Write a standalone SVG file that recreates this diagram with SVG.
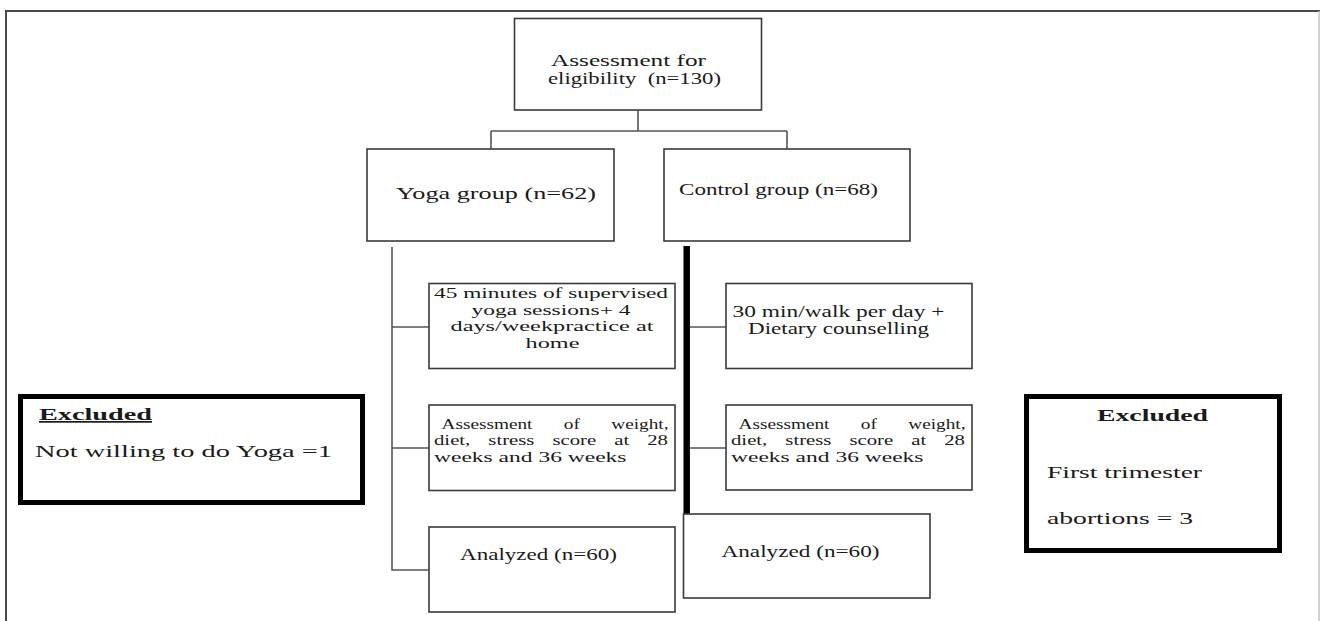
<svg xmlns="http://www.w3.org/2000/svg" width="1322" height="621" viewBox="0 0 1322 621">
<style>
text{font-family:"Liberation Serif","Times New Roman",serif;fill:#1a1a1a;font-size:17px}
.m{font-size:14.5px}
.box{fill:#fff;stroke:#3a3a3a;stroke-width:1.6}
.xbox{fill:#fff;stroke:#000;stroke-width:5}
.con{fill:none;stroke:#555;stroke-width:1.6}
.b{font-weight:bold}
</style>
<rect width="1322" height="621" fill="#fff"/>
<path d="M6,621 V11 H1320" fill="none" stroke="#4a4a4a" stroke-width="2"/>
<path d="M1319,11 V621" fill="none" stroke="#c4c4c4" stroke-width="1.5"/>
<g id="connectors">
<path class="con" d="M638,110 V131 M491,131 H787 M491,131 V149 M787,131 V149" stroke="#666" stroke-width="2"/>
<path class="con" d="M392,247 V570 H429 M392,327 H429 M392,448 H429" stroke="#222"/>
<path d="M686.7,246 V514" fill="none" stroke="#000" stroke-width="6.5"/>
<path class="con" d="M690,327 H726 M690,448 H726"/>
</g>
<g id="n_assess">
<rect class="box" x="514.5" y="18.5" width="247" height="91.5"/>
<text x="551" y="66" font-size="16" textLength="155" lengthAdjust="spacingAndGlyphs">Assessment for</text>
<text x="548" y="84" font-size="16" textLength="173" lengthAdjust="spacingAndGlyphs" xml:space="preserve">eligibility  (n=130)</text>
</g>
<g id="n_yoga">
<rect class="box" x="367" y="149" width="247" height="92"/>
<text x="396" y="199" font-size="19" textLength="200" lengthAdjust="spacingAndGlyphs">Yoga group (n=62)</text>
</g>
<g id="n_control">
<rect class="box" x="664" y="149" width="246" height="92"/>
<text x="679" y="195" textLength="199" lengthAdjust="spacingAndGlyphs">Control group (n=68)</text>
</g>
<g id="n_yoga_intervention">
<rect class="box" x="429" y="283.5" width="246" height="85"/>
<text class="m" x="434" y="298" textLength="234" lengthAdjust="spacingAndGlyphs">45 minutes of supervised</text>
<text class="m" x="471.5" y="314.5" textLength="159" lengthAdjust="spacingAndGlyphs">yoga sessions+ 4</text>
<text class="m" x="450.5" y="331" textLength="203" lengthAdjust="spacingAndGlyphs">days/weekpractice at</text>
<text class="m" x="525.5" y="347.5" textLength="54" lengthAdjust="spacingAndGlyphs">home</text>
</g>
<g id="n_control_intervention">
<rect class="box" x="726" y="283.5" width="246" height="85"/>
<text x="732.5" y="317" font-size="15" textLength="212" lengthAdjust="spacingAndGlyphs">30 min/walk per day +</text>
<text x="748" y="334" font-size="15" textLength="181" lengthAdjust="spacingAndGlyphs">Dietary counselling</text>
</g>
<g id="n_yoga_assessment">
<rect class="box" x="429" y="405" width="246" height="85.5"/>
<text class="m" x="441.5" y="428.5" word-spacing="20" textLength="227" lengthAdjust="spacingAndGlyphs">Assessment of weight,</text>
<text class="m" x="434" y="445" word-spacing="9" textLength="234" lengthAdjust="spacingAndGlyphs">diet, stress score at 28</text>
<text class="m" x="434" y="461.5" textLength="192.5" lengthAdjust="spacingAndGlyphs">weeks and 36 weeks</text>
</g>
<g id="n_control_assessment">
<rect class="box" x="726" y="405" width="246" height="85"/>
<text class="m" x="738.5" y="428.5" word-spacing="20" textLength="227" lengthAdjust="spacingAndGlyphs">Assessment of weight,</text>
<text class="m" x="731" y="445" word-spacing="9" textLength="234" lengthAdjust="spacingAndGlyphs">diet, stress score at 28</text>
<text class="m" x="731" y="461.5" textLength="192.5" lengthAdjust="spacingAndGlyphs">weeks and 36 weeks</text>
</g>
<g id="n_yoga_analyzed">
<rect class="box" x="429" y="527" width="246" height="85"/>
<text x="460" y="560" textLength="157" lengthAdjust="spacingAndGlyphs">Analyzed (n=60)</text>
</g>
<g id="n_control_analyzed">
<rect class="box" x="683.5" y="514" width="246.5" height="84"/>
<text x="721.5" y="557" textLength="158" lengthAdjust="spacingAndGlyphs">Analyzed (n=60)</text>
</g>
<g id="n_excluded_left">
<rect class="xbox" x="20.5" y="396.5" width="342" height="106"/>
<text class="b" x="39" y="420" textLength="113" lengthAdjust="spacingAndGlyphs" text-decoration="underline">Excluded</text>
<text x="35" y="457" textLength="297" lengthAdjust="spacingAndGlyphs">Not willing to do Yoga =1</text>
</g>
<g id="n_excluded_right">
<rect class="xbox" x="1026.5" y="396.5" width="253" height="154"/>
<text class="b" x="1097" y="421" font-size="18" textLength="111" lengthAdjust="spacingAndGlyphs">Excluded</text>
<text x="1047" y="478" font-size="18" textLength="155" lengthAdjust="spacingAndGlyphs">First trimester</text>
<text x="1047" y="524" font-size="18" textLength="146" lengthAdjust="spacingAndGlyphs">abortions = 3</text>
</g>
</svg>
